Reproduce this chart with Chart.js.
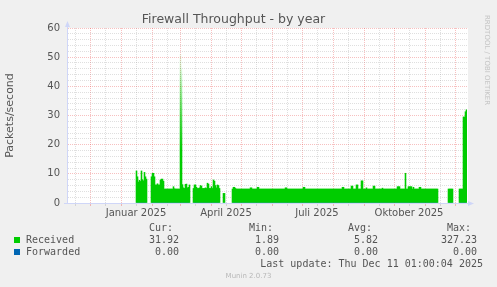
<!DOCTYPE html>
<html><head><meta charset="utf-8">
<script src="https://cdn.jsdelivr.net/npm/chart.js@4/dist/chart.umd.min.js"></script>
<style>
html,body{margin:0;padding:0;background:#f0f0f0;}
#wrap{position:relative;width:497px;height:287px;overflow:hidden;background:#f0f0f0;}
#c{position:absolute;left:0;top:0;}
.m{position:absolute;font-family:"DejaVu Sans Mono",monospace;font-size:10px;line-height:12px;color:#555;white-space:pre;}
.sq{position:absolute;width:6px;height:6px;}
</style></head>
<body>
<div id="wrap">
<canvas id="c" width="497" height="287"></canvas>
</div>
<script>
// ---- data ----
const windowStart = '2024-11-08';   // first day of the 400-day window
const windowDays = 400;
const monthStarts = ['2024-11-01','2024-12-01','2025-01-01','2025-02-01','2025-03-01','2025-04-01','2025-05-01','2025-06-01','2025-07-01','2025-08-01','2025-09-01','2025-10-01','2025-11-01','2025-12-01'];
const labelMonths = ['2025-01-01','2025-04-01','2025-07-01','2025-10-01'];
const tickLabels = ['Januar 2025','April 2025','Juli 2025','Oktober 2025'];
const yTickLabels = [0,10,20,30,40,50,60];
const seriesNames = ['Received','Forwarded'];
const seriesColors = ['#00cc00','#0066b3'];
const curValues = ['31.92','0.00'];
const minValues = ['1.89','0.00'];
const avgValues = ['5.82','0.00'];
const maxValues = ['327.23','0.00'];
const _ = null;
// Received packets/second, one value per day of the window
const received = [
 _,_,_,_,_,_,_,_,_,_, _,_,_,_,_,_,_,_,_,_, _,_,_,_,_,_,_,_,_,_, _,_,_,_,_,_,_,_,_,_,
 _,_,_,_,_,_,_,_,_,_, _,_,_,_,_,_,_,_,_,_, _,_,_,_,_,_,_,_,_,
 11.0,9.0,7.2,7.8,7.4,11.0,8.0,7.6,10.5,9.0,8.2,
 _,_,_,_,
 9.0,10.2,10.2,9.0,6.2,6.2,6.6,6.2,6.2,7.9,8.2,8.2,7.5,
 4.8,4.8,4.8,4.8,4.8,4.8,4.8,4.8,4.8,5.6,4.9,4.8,4.8,4.8,4.8,4.8,
 51,46,
 6.3,5.2,5.0,6.4,6.5,5.2,5.4,6.2,
 _,_,_,
 5.0,6.2,6.2,5.4,5.0,5.0,5.2,6.0,5.8,5.0,5.0,5.0,5.2,5.0,6.8,6.5,5.0,5.0,5.6,5.0,7.9,7.5,6.0,5.2,6.2,6.0,5.0,
 _,_,_,
 3.3,3.3,
 _,_,_,_,_,_,_,
 4.8,5.4,5.4,5.0,4.8,4.8,4.8,4.8,4.8,4.8,
 4.8,4.8,4.8,4.8,4.8,4.8,4.8,4.8,5.2,5.2,
 4.8,4.8,4.8,4.8,4.8,5.4,5.4,4.8,4.8,4.8,
 4.8,4.8,4.8,4.8,4.8,4.8,4.8,4.8,4.8,4.8,
 4.8,4.8,4.8,4.8,4.8,4.8,4.8,4.8,4.8,4.8,
 4.8,4.8,4.8,5.2,5.2,4.8,4.8,4.8,4.8,4.8,
 4.8,4.8,4.8,4.8,4.8,4.8,4.8,4.8,4.8,4.8,
 4.8,5.4,5.4,4.8,4.8,4.8,4.8,4.8,4.8,4.8,
 4.8,4.8,4.8,4.8,4.8,4.8,4.8,4.8,4.8,4.8,
 4.8,4.8,4.8,4.8,4.8,4.8,4.8,4.8,4.8,4.8,
 4.8,4.8,4.8,4.8,4.8,4.8,4.8,4.8,4.8,4.8,
 5.4,5.4,4.8,4.8,4.8,4.8,4.8,4.8,4.8,5.8,
 5.8,4.8,4.8,4.8,6.2,6.2,4.8,4.8,4.8,7.6,
 7.6,4.8,4.8,4.8,5.2,4.8,4.8,4.8,4.8,4.8,
 4.8,5.8,5.8,4.8,4.8,4.8,4.8,4.8,4.8,4.8,
 5.1,4.8,4.8,4.8,4.8,4.8,4.8,4.8,4.8,4.8,
 4.8,4.8,4.8,4.8,4.8,5.6,5.6,5.6,4.8,4.8,
 4.8,4.8,4.8,10.2,4.8,4.8,5.6,5.6,5.6,5.6,
 4.8,5.4,4.8,4.8,4.8,4.8,4.8,5.4,5.4,4.8,
 4.8,4.8,4.8,4.8,4.8,4.8,4.8,4.8,4.8,4.8,
 4.8,4.8,4.8,4.8,4.8,4.8,
 _,_,_,_,_,_,_,_,_,_,
 4.8,4.8,4.8,4.8,4.8,
 _,_,_,_,_,_,
 4.8,4.8,4.8,4.8,
 29.5,29.5,
 31.3,31.92
];
// Forwarded packets/second (always zero where data exists)
const forwarded = received.map(v => v === null ? null : 0);

// ---- helpers ----
const DAY = 864e5;
const dayIndex = d => Math.round((Date.parse(d) - Date.parse(windowStart)) / DAY);
const LABEL_SHIFT = 15; // rrdtool centers month labels half a month in
const xTicks = [];
const labelAt = {};
monthStarts.forEach(m => {
  const s = dayIndex(m);
  if (s >= 0 && s <= windowDays) xTicks.push({value: s, kind: 'major'});
  if (s + LABEL_SHIFT >= 0 && s + LABEL_SHIFT <= windowDays) xTicks.push({value: s + LABEL_SHIFT, kind: 'minor'});
});
labelMonths.forEach((m, k) => { labelAt[dayIndex(m) + LABEL_SHIFT] = tickLabels[k]; });
xTicks.sort((a, b) => a.value - b.value);

const GRID_RED = 'rgba(225,30,30,0.28)';
const GRID_GREY = 'rgba(140,140,140,0.28)';
const AXIS = '#CFD6F8';
const TXT = '#555555';

const canvasBg = {
  id: 'canvasBg',
  beforeDraw(chart) {
    const {ctx, chartArea: a} = chart;
    ctx.save();
    ctx.fillStyle = '#ffffff';
    ctx.fillRect(a.left, a.top, a.right - a.left + 1, a.bottom - a.top);
    ctx.restore();
  }
};

const arrows = {
  id: 'arrows',
  afterDraw(chart) {
    const {ctx, chartArea: a} = chart;
    ctx.save();
    ctx.fillStyle = AXIS; ctx.strokeStyle = AXIS; ctx.lineWidth = 1;
    ctx.beginPath();
    ctx.moveTo(a.left + 0.5, a.top); ctx.lineTo(a.left + 0.5, a.top - 2);
    ctx.moveTo(a.left - 3, a.bottom + 0.5); ctx.lineTo(a.left, a.bottom + 0.5);
    ctx.moveTo(a.right, a.bottom + 0.5); ctx.lineTo(a.right + 2, a.bottom + 0.5);
    ctx.stroke();
    ctx.beginPath();
    ctx.moveTo(a.left - 2, a.top - 1); ctx.lineTo(a.left + 3, a.top - 1); ctx.lineTo(a.left + 0.5, a.top - 7); ctx.closePath(); ctx.fill();
    ctx.beginPath();
    ctx.moveTo(a.right + 1, a.bottom - 2); ctx.lineTo(a.right + 1, a.bottom + 3); ctx.lineTo(a.right + 7, a.bottom + 0.5); ctx.closePath(); ctx.fill();
    ctx.restore();
  }
};

function spikeFill(c) {
  const v = c.parsed ? c.parsed.y : 0;
  if (v > 40 && c.chart.scales && c.chart.scales.y) {
    const ys = c.chart.scales.y;
    const g = c.chart.ctx.createLinearGradient(0, ys.getPixelForValue(18), 0, ys.getPixelForValue(v));
    g.addColorStop(0, seriesColors[0]);
    g.addColorStop(1, 'rgba(0,204,0,0.06)');
    return g;
  }
  return seriesColors[0];
}

new Chart(document.getElementById('c'), {
  type: 'bar',
  data: {
    datasets: [
      {
        label: seriesNames[0],
        data: received.map((v, i) => ({x: i + 0.5, y: v})),
        backgroundColor: spikeFill,
        borderWidth: 0,
        barPercentage: 1, categoryPercentage: 1, inflateAmount: 0.3,
        order: 2
      },
      {
        type: 'line',
        label: seriesNames[1],
        data: forwarded.map((v, i) => ({x: i + 0.5, y: v})),
        borderColor: 'rgba(0,102,179,0.45)', borderWidth: 1,
        pointRadius: 0, spanGaps: false, fill: false,
        order: 1
      }
    ]
  },
  options: {
    responsive: false, animation: false, devicePixelRatio: 1,
    layout: {padding: {left: 0, right: 30, top: 0, bottom: 0}},
    plugins: {
      legend: {display: false}, tooltip: {enabled: false},
      title: {display: true, text: 'Firewall Throughput - by year', color: TXT,
        font: {family: 'DejaVu Sans', size: 12.5, weight: 'normal'}, padding: {top: 12, bottom: 1}}
    },
    scales: {
      x: {
        type: 'linear', min: 0, max: windowDays, offset: false,
        afterBuildTicks: s => { s.ticks = xTicks.map(t => ({value: t.value, kind: t.kind})); },
        afterFit: s => { s.height = 84; },
        grid: {
          color: c => (c.tick && c.tick.kind === 'major') ? GRID_RED : GRID_GREY,
          tickColor: c => (c.tick && c.tick.kind === 'major') ? GRID_RED : GRID_GREY,
          lineWidth: 1, drawTicks: true, tickLength: 3, offset: false
        },
        border: {color: AXIS, dash: [1, 1]},
        ticks: {autoSkip: false, maxRotation: 0, minRotation: 0, padding: 1, color: TXT,
          font: {family: 'DejaVu Sans', size: 10}, callback: v => labelAt[v] || ''}
      },
      y: {
        min: 0, max: 60,
        afterFit: s => { s.width = 67; },
        grid: {color: c => (c.tick && c.tick.value % 10 === 0) ? GRID_RED : GRID_GREY, drawTicks: false, lineWidth: 1},
        border: {color: AXIS, dash: [1, 1]},
        ticks: {stepSize: 2, autoSkip: false, padding: 7, color: TXT,
          font: {family: 'DejaVu Sans', size: 10},
          callback: v => yTickLabels.includes(v) ? String(v) : ''},
        title: {display: true, text: 'Packets/second', color: TXT,
          font: {family: 'DejaVu Sans', size: 11}, padding: {top: 4, bottom: 0}}
      }
    }
  },
  plugins: [canvasBg, arrows]
});

// ---- legend / footer as text ----
const wrap = document.getElementById('wrap');
function txt(s, style, cls) {
  const d = document.createElement('div');
  d.className = cls || 'm';
  d.textContent = s;
  Object.assign(d.style, style);
  wrap.appendChild(d);
  return d;
}
const colRight = [179, 279, 378, 477];
['Cur:','Min:','Avg:','Max:'].forEach((h, k) => txt(h, {left: (colRight[k] - 30) + 'px', top: '221.5px'}));
const rowTop = [233.5, 245.9];
seriesNames.forEach((n, r) => {
  const sq = document.createElement('div');
  sq.className = 'sq';
  Object.assign(sq.style, {left: '14px', top: (rowTop[r] + 3.5) + 'px', background: seriesColors[r]});
  wrap.appendChild(sq);
  txt(n, {left: '26px', top: rowTop[r] + 'px'});
  [curValues, minValues, avgValues, maxValues].forEach((arr, k) =>
    txt(arr[r], {right: (497 - colRight[k]) + 'px', top: rowTop[r] + 'px'}));
});
txt('Last update: Thu Dec 11 01:00:04 2025', {right: '14px', top: '257.9px'});
txt('Munin 2.0.73', {left: '0px', width: '497px', textAlign: 'center', top: '271px',
  fontFamily: '"DejaVu Sans", sans-serif', fontSize: '7px', lineHeight: '10px', color: '#b8b8b8'});
txt('RRDTOOL / TOBI OETIKER', {left: '491px', top: '15px', transformOrigin: '0 0', transform: 'rotate(90deg)',
  fontFamily: '"DejaVu Sans", sans-serif', fontSize: '7px', lineHeight: '8px', color: '#c4c4c4'});
</script>
</body></html>
